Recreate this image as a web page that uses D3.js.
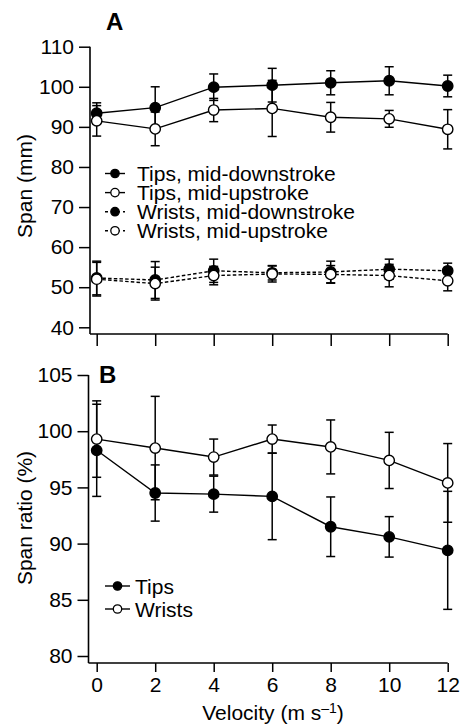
<!DOCTYPE html>
<html><head><meta charset="utf-8">
<script src="https://cdn.jsdelivr.net/npm/d3@7"></script>
<style>
body{margin:0;background:#fff;}
svg{display:block;font-family:"Liberation Sans",Arial,Helvetica,sans-serif;}
</style></head>
<body><svg id="c" width="461" height="727"></svg>
<script>
const velocity = [0, 2, 4, 6, 8, 10, 12];
const xTickLabels = ["0", "2", "4", "6", "8", "10", "12"];
const spanTicks = [40, 50, 60, 70, 80, 90, 100, 110];
const ratioTicks = [80, 85, 90, 95, 100, 105];

const tipsDown = [93.4, 94.8, 99.9, 100.4, 101.0, 101.5, 100.2];
const tipsDownErr = [2.6, 5.2, 3.3, 4.2, 3.0, 3.5, 2.7];
const tipsUp = [91.5, 89.5, 94.2, 94.6, 92.4, 92.0, 89.4];
const tipsUpErr = [3.8, 4.2, 2.9, 7.0, 3.7, 2.1, 4.9];
const wristsDown = [52.3, 51.8, 54.1, 53.6, 53.8, 54.5, 54.1];
const wristsDownErr = [4.2, 4.6, 2.9, 1.8, 2.7, 2.5, 1.9];
const wristsUp = [52.0, 50.9, 52.9, 53.3, 53.2, 52.9, 51.6];
const wristsUpErr = [4.2, 4.1, 2.3, 2.0, 2.2, 2.8, 2.5];

const ratioTips = [98.3, 94.5, 94.4, 94.2, 91.5, 90.6, 89.4];
const ratioTipsErr = [4.1, 2.5, 1.6, 3.85, 2.65, 1.8, 5.25];
const ratioWrists = [99.3, 98.5, 97.7, 99.3, 98.6, 97.4, 95.4];
const ratioWristsErr = [3.4, 4.6, 1.6, 1.25, 2.4, 2.5, 3.5];

const svg = d3.select("#c");
const FS = 21;
const x = d3.scaleLinear().domain([0, 12]).range([96.7, 447.7]);
const yA = d3.scaleLinear().domain([40, 110]).range([327.3, 46.7]);
const yB = d3.scaleLinear().domain([80, 105]).range([656, 375]);

function series(g, y, vals, errs, filled, dashed) {
  const data = velocity.map((v, i) => ({v, m: vals[i], e: errs[i]}));
  g.append("path").datum(data)
    .attr("d", d3.line().x(d => x(d.v)).y(d => y(d.m)))
    .attr("fill", "none").attr("stroke", "#000")
    .attr("stroke-width", dashed ? 1.4 : 1.4)
    .attr("stroke-dasharray", dashed ? "3.5,2.2" : null);
  const eb = g.selectAll(null).data(data).enter().append("g");
  eb.append("line").attr("x1", d => x(d.v)).attr("x2", d => x(d.v))
    .attr("y1", d => y(d.m - d.e)).attr("y2", d => y(d.m + d.e))
    .attr("stroke", "#000").attr("stroke-width", 1.5);
  [1, -1].forEach(s => {
    eb.append("line").attr("x1", d => x(d.v) - 4.5).attr("x2", d => x(d.v) + 4.5)
      .attr("y1", d => y(d.m + s * d.e)).attr("y2", d => y(d.m + s * d.e))
      .attr("stroke", "#000").attr("stroke-width", 1.5);
  });
  return data;
}
function markers(g, y, data, filled) {
  g.selectAll(null).data(data).enter().append("circle")
    .attr("cx", d => x(d.v)).attr("cy", d => y(d.m)).attr("r", 5.2)
    .attr("fill", filled ? "#000" : "#fff").attr("stroke", "#000").attr("stroke-width", 1.4);
}

function yAxis(y, ticks, ax, top, bottom) {
  const g = svg.append("g").attr("transform", `translate(${ax},0)`)
    .call(d3.axisLeft(y).tickValues(ticks).tickSize(11).tickPadding(5).tickFormat(d3.format("d")));
  g.select(".domain").remove();
  g.selectAll(".tick line").attr("stroke-width", 1.5);
  g.selectAll(".tick text").attr("font-size", FS).attr("font-family", "inherit").attr("fill", "#000");
  svg.append("line").attr("x1", ax).attr("x2", ax).attr("y1", top).attr("y2", bottom)
    .attr("stroke", "#000").attr("stroke-width", 1.6);
}
function xAxis(ay, ax, tickLen, labels) {
  const g = svg.append("g").attr("transform", `translate(0,${ay})`)
    .call(d3.axisBottom(x).tickValues(velocity).tickSize(tickLen).tickPadding(5)
      .tickFormat((d, i) => labels ? xTickLabels[i] : ""));
  g.select(".domain").remove();
  g.selectAll(".tick line").attr("stroke-width", 1.5);
  g.selectAll(".tick text").attr("font-size", FS).attr("font-family", "inherit").attr("fill", "#000");
  svg.append("line").attr("x1", ax).attr("x2", x(12)).attr("y1", ay).attr("y2", ay)
    .attr("stroke", "#000").attr("stroke-width", 1.6);
}

// Panel A
yAxis(yA, spanTicks, 90, yA(110), 334);
xAxis(334, 90, 12, false);
const gA = svg.append("g");
const dWD = series(gA, yA, wristsDown, wristsDownErr, true, true);
const dWU = series(gA, yA, wristsUp, wristsUpErr, false, true);
const dTD = series(gA, yA, tipsDown, tipsDownErr, true, false);
const dTU = series(gA, yA, tipsUp, tipsUpErr, false, false);
markers(gA, yA, dWD, true);
markers(gA, yA, dWU, false);
markers(gA, yA, dTD, true);
markers(gA, yA, dTU, false);

// Panel B
yAxis(yB, ratioTicks, 88.5, yB(105), 663);
xAxis(663, 88.5, 9, true);
const gB = svg.append("g");
const dRT = series(gB, yB, ratioTips, ratioTipsErr, true, false);
const dRW = series(gB, yB, ratioWrists, ratioWristsErr, false, false);
markers(gB, yB, dRT, true);
markers(gB, yB, dRW, false);

// Panel letters
svg.append("text").attr("x", 106).attr("y", 30).attr("font-size", 24).attr("font-weight", "bold").text("A");
svg.append("text").attr("x", 99).attr("y", 383).attr("font-size", 24).attr("font-weight", "bold").text("B");

// Axis titles
svg.append("text").attr("transform", "translate(32,186) rotate(-90)").attr("text-anchor", "middle")
  .attr("font-size", FS).text("Span (mm)");
svg.append("text").attr("transform", "translate(32,518) rotate(-90)").attr("text-anchor", "middle")
  .attr("font-size", FS).text("Span ratio (%)");
const xl = svg.append("text").attr("x", 273).attr("y", 720).attr("text-anchor", "middle").attr("font-size", FS);
xl.append("tspan").text("Velocity (m s");
xl.append("tspan").attr("dy", -7).attr("font-size", 14).text("\u20131");
xl.append("tspan").attr("dy", 7).text(")");

// Legends
const legA = [
  {t: "Tips, mid-downstroke", f: true, d: false},
  {t: "Tips, mid-upstroke", f: false, d: false},
  {t: "Wrists, mid-downstroke", f: true, d: true},
  {t: "Wrists, mid-upstroke", f: false, d: true}
];
const legB = [{t: "Tips", f: true}, {t: "Wrists", f: false}];
function legend(items, x0, x1, mx, tx, y0, dy, r) {
  items.forEach((it, i) => {
    const yy = y0 + i * dy;
    svg.append("line").attr("x1", x0).attr("x2", x1).attr("y1", yy).attr("y2", yy)
      .attr("stroke", "#000").attr("stroke-width", 1.4).attr("stroke-dasharray", it.d ? "3,3" : null);
    svg.append("circle").attr("cx", mx).attr("cy", yy).attr("r", r)
      .attr("fill", it.f ? "#000" : "#fff").attr("stroke", "#000").attr("stroke-width", 1.3);
    svg.append("text").attr("x", tx).attr("y", yy + 7.5).attr("font-size", FS).text(it.t);
  });
}
legend(legA, 105, 125, 115, 137, 173.5, 19.1, 4.2);
legend(legB, 105, 130, 117.5, 135, 586, 23, 4.2);
</script></body></html>
